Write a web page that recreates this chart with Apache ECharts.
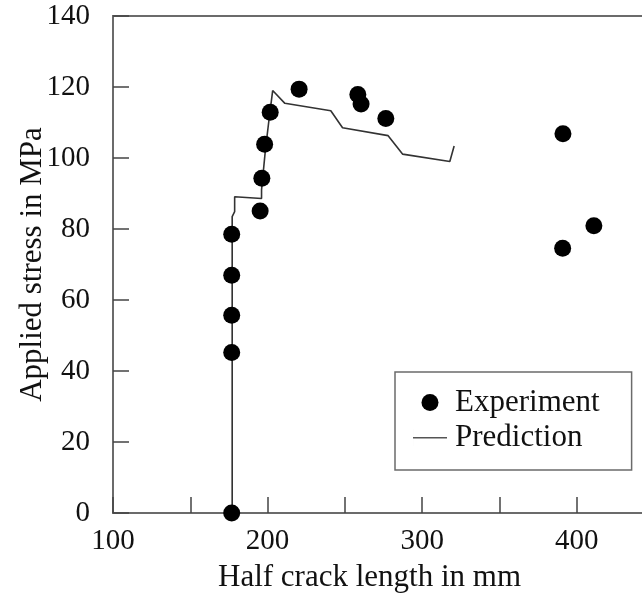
<!DOCTYPE html>
<html>
<head>
<meta charset="utf-8">
<script src="https://cdn.jsdelivr.net/npm/echarts@6/dist/echarts.min.js"></script>
<style>
html,body{margin:0;padding:0;background:#fff;}
#chart{width:642px;height:594px;}
</style>
</head>
<body>
<div id="chart"></div>
<script>
// Experiment: half crack length (mm), applied stress (MPa)
const expX = [176.8, 176.8, 176.8, 176.8, 176.8, 195.2, 196.3, 198.1, 201.7, 220.4, 258.4, 260.5, 276.5, 391.1, 411.1, 390.9];
const expY = [0, 45.2, 55.7, 67.0, 78.5, 85.1, 94.3, 103.9, 112.9, 119.4, 117.9, 115.2, 111.1, 106.8, 80.9, 74.6];
// Prediction line vertices
const predX = [177.1, 177.1, 178.7, 178.7, 196.1, 196.1, 198.6, 200.9, 203.3, 211.2, 240.9, 248.5, 278.0, 287.3, 317.9, 320.7];
const predY = [0, 83.5, 84.9, 89.1, 88.6, 91.0, 102.3, 110.7, 119.0, 115.4, 113.3, 108.5, 106.3, 101.1, 99.0, 103.4];
const xTickLabels = [100, 200, 300, 400];
const yTickLabels = [0, 20, 40, 60, 80, 100, 120, 140];

const FONT = '"Liberation Serif", "Times New Roman", serif';
const axisGray = '#6b6b6b';

const chart = echarts.init(document.getElementById('chart'), null, {renderer: 'canvas'});
chart.setOption({
  animation: false,
  backgroundColor: '#fff',
  grid: {left: 113, top: 16, bottom: 81, width: 541, show: true, borderColor: axisGray, borderWidth: 2,
    containLabel: false, outerBoundsMode: 'none'},
  legend: {
    orient: 'vertical',
    left: 395, top: 372,
    borderColor: axisGray, borderWidth: 1.5,
    padding: [15, 32, 17, 18],
    itemGap: 4,
    itemWidth: 34, itemHeight: 17,
    textStyle: {fontFamily: FONT, fontSize: 31, color: '#111', padding: [0, 0, 0, 3]},
    data: [
      {name: 'Experiment', icon: 'circle', itemStyle: {color: '#000', opacity: 1}},
      {name: 'Prediction', icon: 'path://M0,0 H0.01 V17 H0 Z M0,8 H34 V9.6 H0 Z', itemStyle: {color: '#555'}}
    ]
  },
  xAxis: {
    type: 'value', min: 100, max: 450, interval: 50,
    name: 'Half crack length in mm', nameLocation: 'middle', nameGap: 49,
    nameTextStyle: {fontFamily: FONT, fontSize: 31, color: '#111', padding: [0, 28, 0, 0]},
    axisLine: {show: true, lineStyle: {color: axisGray, width: 2}},
    axisTick: {show: true, inside: true, length: 16, lineStyle: {color: '#444', width: 1.5}},
    axisLabel: {fontFamily: FONT, fontSize: 29, color: '#111', margin: 14,
      formatter: v => xTickLabels.includes(v) ? String(v) : ''},
    splitLine: {show: false}
  },
  yAxis: {
    type: 'value', min: 0, max: 140, interval: 20,
    name: 'Applied stress in MPa', nameLocation: 'middle', nameGap: 65, nameMoveOverlap: false,
    nameTextStyle: {fontFamily: FONT, fontSize: 31, color: '#111'},
    axisLine: {show: true, lineStyle: {color: axisGray, width: 2}},
    axisTick: {show: true, inside: true, length: 16, lineStyle: {color: '#444', width: 1.5}},
    axisLabel: {fontFamily: FONT, fontSize: 29, color: '#111', margin: 23,
      formatter: v => yTickLabels.includes(v) ? String(v) : ''},
    splitLine: {show: false}
  },
  series: [
    {
      name: 'Prediction', type: 'line', symbol: 'none', z: 2,
      data: predX.map((x, i) => [x, predY[i]]),
      lineStyle: {color: '#333', width: 1.6},
      itemStyle: {color: '#333'}
    },
    {
      name: 'Experiment', type: 'scatter', symbol: 'circle', symbolSize: 17, z: 3,
      data: expX.map((x, i) => [x, expY[i]]),
      itemStyle: {color: '#000', opacity: 1}
    }
  ]
});
</script>
</body>
</html>
